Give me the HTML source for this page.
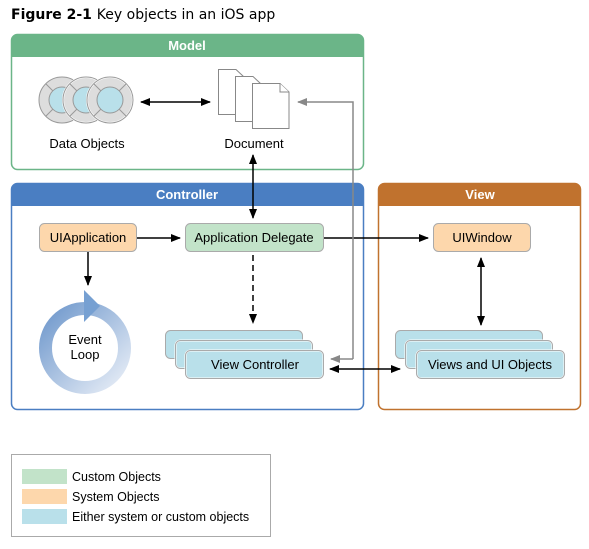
<!DOCTYPE html>
<html><head><meta charset="utf-8"><style>
body{margin:0;background:#fff;width:589px;height:544px;overflow:hidden}
svg text{font-family:"Liberation Sans",Arial,sans-serif}
</style></head><body>
<svg width="589" height="544" viewBox="0 0 589 544" xmlns="http://www.w3.org/2000/svg">
<defs>
<marker id="a" markerWidth="10" markerHeight="8" refX="9" refY="4" orient="auto-start-reverse" markerUnits="userSpaceOnUse"><path d="M0,0 L10,4 L0,8 Z" fill="#000"/></marker>
<marker id="g" markerWidth="10" markerHeight="8" refX="9" refY="4" orient="auto" markerUnits="userSpaceOnUse"><path d="M0,0 L10,4 L0,8 Z" fill="#888"/></marker>
<linearGradient id="lg" x1="0" y1="0" x2="1" y2="1"><stop offset="0" stop-color="#6f98cc"/><stop offset="1" stop-color="#e8eef7"/></linearGradient>
</defs>
<text x="11" y="19" font-size="14" font-weight="bold" fill="#000" style="font-family:'DejaVu Sans',sans-serif">Figure 2-1 <tspan font-weight="normal">Key objects in an iOS app</tspan></text>

<!-- Model -->
<rect x="11.5" y="34.5" width="352" height="135" rx="6" fill="#fff" stroke="#6bb588" stroke-width="1.5"/>
<path d="M11.5,57 V40.5 a6,6 0 0 1 6,-6 H357.5 a6,6 0 0 1 6,6 V57 Z" fill="#6bb588"/>
<text x="187" y="50" font-size="13" font-weight="bold" fill="#fff" text-anchor="middle">Model</text>

<!-- circles -->
<g stroke="#999" stroke-width="1">
<g transform="translate(62,100)"><circle r="23" fill="#ddd"/><circle r="13" fill="#b9e0ea"/><path d="M-9,-9 L-16,-16 M9,-9 L16,-16 M-9,9 L-16,16 M9,9 L16,16"/></g>
<g transform="translate(86,100)"><circle r="23" fill="#ddd" stroke="#fff" stroke-width="2"/><circle r="23" fill="none"/><circle r="13" fill="#b9e0ea"/><path d="M-9,-9 L-16,-16 M9,-9 L16,-16 M-9,9 L-16,16 M9,9 L16,16"/></g>
<g transform="translate(110,100)"><circle r="23" fill="#ddd" stroke="#fff" stroke-width="2"/><circle r="23" fill="none"/><circle r="13" fill="#b9e0ea"/><path d="M-9,-9 L-16,-16 M9,-9 L16,-16 M-9,9 L-16,16 M9,9 L16,16"/></g>
</g>
<text x="87" y="148" font-size="13" text-anchor="middle">Data Objects</text>
<line x1="141" y1="102" x2="210" y2="102" stroke="#000" stroke-width="1.5" marker-start="url(#a)" marker-end="url(#a)"/>
<!-- documents -->
<g fill="#fff" stroke="#888" stroke-width="1">
<path d="M218.5,69.5 H236 L244,77 V114.5 H218.5 Z"/>
<path d="M235.5,76.5 H253 L261,84 V121.5 H235.5 Z"/>
<path d="M252.5,83.5 H280 L289,92 V128.5 H252.5 Z"/>
<path d="M280,83.5 V92 H289"/>
</g>
<text x="254" y="148" font-size="13" text-anchor="middle">Document</text>

<!-- Controller -->
<rect x="11.5" y="183.5" width="352" height="226" rx="6" fill="#fff" stroke="#4a7ec2" stroke-width="1.5"/>
<path d="M11.5,206 V189.5 a6,6 0 0 1 6,-6 H357.5 a6,6 0 0 1 6,6 V206 Z" fill="#4a7ec2"/>
<text x="187" y="199" font-size="13" font-weight="bold" fill="#fff" text-anchor="middle">Controller</text>

<!-- View -->
<rect x="378.5" y="183.5" width="202" height="226" rx="6" fill="#fff" stroke="#c0722e" stroke-width="1.5"/>
<path d="M378.5,206 V189.5 a6,6 0 0 1 6,-6 H574.5 a6,6 0 0 1 6,6 V206 Z" fill="#c0722e"/>
<text x="480" y="199" font-size="13" font-weight="bold" fill="#fff" text-anchor="middle">View</text>

<!-- nodes -->
<rect x="39.5" y="223.5" width="97" height="28" rx="5" fill="#fdd7ac" stroke="#aaa"/>
<text x="88" y="242" font-size="13" text-anchor="middle">UIApplication</text>
<rect x="185.5" y="223.5" width="138" height="28" rx="5" fill="#c2e3c9" stroke="#aaa"/>
<text x="254" y="242" font-size="13" text-anchor="middle">Application Delegate</text>
<rect x="433.5" y="223.5" width="97" height="28" rx="5" fill="#fdd7ac" stroke="#aaa"/>
<text x="482" y="242" font-size="13" text-anchor="middle">UIWindow</text>

<g fill="#b9e0ea" stroke="#aaa">
<rect x="165.5" y="330.5" width="137" height="28" rx="5"/>
<rect x="175.5" y="340.5" width="137" height="28" rx="5" stroke="#fff" stroke-width="2"/><rect x="175.5" y="340.5" width="137" height="28" rx="5" fill="none"/>
<rect x="185.5" y="350.5" width="138" height="28" rx="5" stroke="#fff" stroke-width="2"/><rect x="185.5" y="350.5" width="138" height="28" rx="5" fill="none"/>
<rect x="395.5" y="330.5" width="147" height="28" rx="5"/>
<rect x="405.5" y="340.5" width="147" height="28" rx="5" stroke="#fff" stroke-width="2"/><rect x="405.5" y="340.5" width="147" height="28" rx="5" fill="none"/>
<rect x="416.5" y="350.5" width="148" height="28" rx="5" stroke="#fff" stroke-width="2"/><rect x="416.5" y="350.5" width="148" height="28" rx="5" fill="none"/>
</g>
<text x="255" y="369" font-size="13" text-anchor="middle">View Controller</text>
<text x="490" y="369" font-size="13" text-anchor="middle">Views and UI Objects</text>

<!-- event loop -->
<circle cx="85" cy="348" r="39.5" fill="none" stroke="url(#lg)" stroke-width="13"/>
<path d="M84,290 L100,306 L84,322 Z" fill="#76a0d2"/>
<text x="85" y="344" font-size="13" text-anchor="middle">Event</text>
<text x="85" y="359" font-size="13" text-anchor="middle">Loop</text>

<!-- arrows -->
<line x1="88" y1="252" x2="88" y2="285" stroke="#000" stroke-width="1.5" marker-end="url(#a)"/>
<line x1="137" y1="238" x2="180" y2="238" stroke="#000" stroke-width="1.5" marker-end="url(#a)"/>
<line x1="324" y1="238" x2="428" y2="238" stroke="#000" stroke-width="1.5" marker-end="url(#a)"/>
<line x1="253" y1="155" x2="253" y2="218" stroke="#000" stroke-width="1.5" marker-start="url(#a)" marker-end="url(#a)"/>
<line x1="253" y1="255" x2="253" y2="323" stroke="#000" stroke-width="1.5" stroke-dasharray="6,4" marker-end="url(#a)"/>
<line x1="481" y1="258" x2="481" y2="325" stroke="#000" stroke-width="1.5" marker-start="url(#a)" marker-end="url(#a)"/>
<line x1="330" y1="369" x2="400" y2="369" stroke="#000" stroke-width="1.5" marker-start="url(#a)" marker-end="url(#a)"/>
<path d="M353,359 V102 H298" fill="none" stroke="#888" stroke-width="1.5" marker-end="url(#g)"/>
<path d="M353,359 H331" fill="none" stroke="#888" stroke-width="1.5" marker-end="url(#g)"/>

<!-- legend -->
<rect x="11.5" y="454.5" width="259" height="82" fill="#fff" stroke="#aaa"/>
<rect x="22" y="469" width="45" height="15" fill="#c2e3c9"/>
<rect x="22" y="489" width="45" height="15" fill="#fdd7ac"/>
<rect x="22" y="509" width="45" height="15" fill="#b9e0ea"/>
<text x="72" y="481" font-size="12.5">Custom Objects</text>
<text x="72" y="501" font-size="12.5">System Objects</text>
<text x="72" y="521" font-size="12.5">Either system or custom objects</text>
</svg>
</body></html>
